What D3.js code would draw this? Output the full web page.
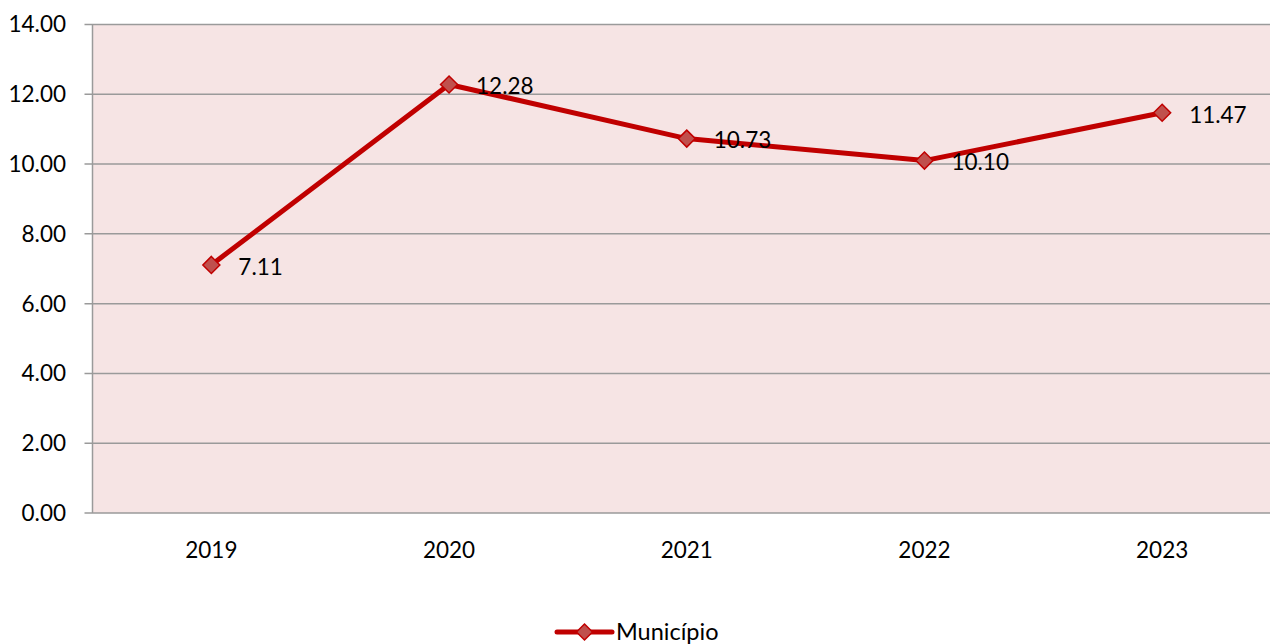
<!DOCTYPE html>
<html><head><meta charset="utf-8">
<script src="https://cdn.jsdelivr.net/npm/d3@7"></script>
<style>body{margin:0;background:#fff}svg{display:block}text{font-family:Lato,"Open Sans",sans-serif;fill:#000}</style>
</head><body><svg id="c" width="1270" height="644"></svg>
<script>
const categories = ["2019","2020","2021","2022","2023"];
const values = [7.11, 12.28, 10.73, 10.10, 11.47];
const yTicks = [0,2,4,6,8,10,12,14];
const seriesName = "Município";

(function(){
const svg = d3.select("#c");
const fs = 22.5;
const pL = 92.5, pR = 1281, pT = 24.5, pB = 513;
const x = d3.scaleBand().domain(categories).range([pL, pR]);
const y = d3.scaleLinear().domain([0,14]).range([pB, pT]);

svg.append("rect").attr("x", pL).attr("y", pT).attr("width", pR-pL).attr("height", pB-pT).attr("fill", "#F6E4E4");

const gy = svg.append("g");
yTicks.forEach(t => {
  gy.append("line").attr("x1", pL-8).attr("x2", pR).attr("y1", y(t)).attr("y2", y(t)).attr("stroke", "#9a9a9a").attr("stroke-width", 1.5);
  gy.append("text").attr("x", 66).attr("y", y(t)).attr("dy", "0.35em").attr("text-anchor", "end").attr("font-size", fs).text(t.toFixed(2));
});
svg.append("line").attr("x1", pL).attr("x2", pL).attr("y1", pT).attr("y2", pB).attr("stroke", "#9a9a9a").attr("stroke-width", 1.5);

categories.forEach(c => {
  svg.append("text").attr("x", x(c)+x.bandwidth()/2).attr("y", 550).attr("dy","0.35em").attr("text-anchor","middle").attr("font-size", fs).text(c);
});

const cx = (d,i) => x(categories[i]) + x.bandwidth()/2;
const line = d3.line().x((d,i)=>cx(d,i)).y(d=>y(d));
svg.append("path").datum(values).attr("d", line).attr("fill","none").attr("stroke","#C00000").attr("stroke-width",5).attr("stroke-linejoin","round");

const diamond = (px, py, s) => `M${px},${py-s}L${px+s},${py}L${px},${py+s}L${px-s},${py}Z`;
values.forEach((v,i) => {
  svg.append("path").attr("d", diamond(cx(v,i), y(v), 8.5)).attr("fill","#C0504D").attr("stroke","#C00000").attr("stroke-width",1.5);
  svg.append("text").attr("x", cx(v,i)+27).attr("y", y(v)+2).attr("dy","0.35em").attr("font-size",fs).text(v.toFixed(2));
});

svg.append("line").attr("x1",557).attr("x2",612).attr("y1",632).attr("y2",632).attr("stroke","#C00000").attr("stroke-width",5).attr("stroke-linecap","round");
svg.append("path").attr("d", diamond(584.5, 632, 8)).attr("fill","#C0504D").attr("stroke","#C00000").attr("stroke-width",1.5);
svg.append("text").attr("x",616).attr("y",632).attr("dy","0.35em").attr("font-size",fs+1).text(seriesName);
})();
</script></body></html>
